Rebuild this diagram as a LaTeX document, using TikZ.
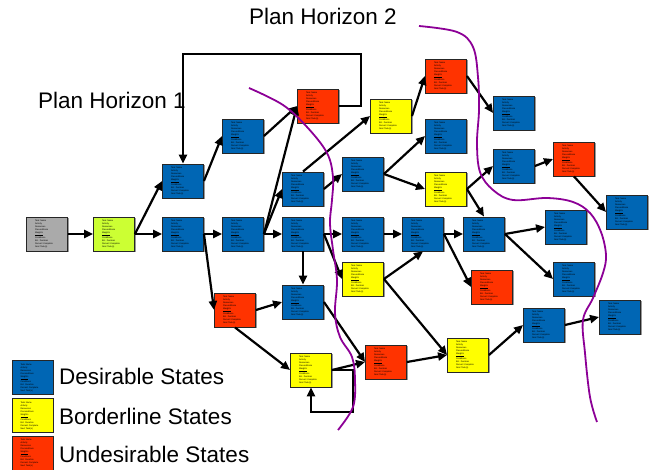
\documentclass[tikz,border=0pt]{standalone}
\usepackage{fontspec}
\setmainfont{Liberation Sans}
\usetikzlibrary{arrows.meta,shadows}
\definecolor{stblue}{RGB}{0,102,180}
\definecolor{styellow}{RGB}{255,255,0}
\definecolor{stred}{RGB}{255,51,0}
\definecolor{stgray}{RGB}{170,170,170}
\definecolor{stlime}{RGB}{204,255,51}
\definecolor{hpurple}{RGB}{140,0,150}
\newcommand{\taskinfo}{Task Name\\Activity\\Resources\\Preconditions\\\underline{Weights}\\Conditions\\Est. Duration\\Percent Complete\\Next Task(s)}
\tikzset{
  state/.style={draw=black!85, line width=0.9pt, minimum width=41pt, minimum height=34pt,
    inner sep=0pt, text width=24pt, align=left, font=\fontsize{2.2}{3}\selectfont,
    drop shadow={shadow xshift=1pt, shadow yshift=-1pt, fill=black!40, opacity=1}},
  dstate/.style={state, fill=stblue},
  bstate/.style={state, fill=styellow},
  ustate/.style={state, fill=stred},
  gstate/.style={state, fill=stgray},
  lstate/.style={state, fill=stlime},
  conn/.style={line width=2.2pt, -{Triangle[length=9pt,width=8pt]}},
  horizon/.style={draw=hpurple, line width=1.8pt},
  biglabel/.style={font=\fontsize{22.5}{27}\selectfont, inner sep=0pt, anchor=base west}
}
\begin{document}
\begin{tikzpicture}[x=1pt,y=-1pt]
\useasboundingbox (0,0) rectangle (649,470);

% titles
\node[biglabel] (ph2) at (249,25) {Plan Horizon 2};
\node[biglabel] (ph1) at (38,109) {Plan Horizon 1};

% states
\node[gstate] (g) at (47,234) {\taskinfo};
\node[lstate] (s) at (114,234) {\taskinfo};
\node[dstate] (a1) at (183,181) {\taskinfo};
\node[dstate] (a2) at (183,234) {\taskinfo};
\node[dstate] (b1) at (243,136) {\taskinfo};
\node[dstate] (b2) at (243,234) {\taskinfo};
\node[ustate] (r1) at (318,106) {\taskinfo};
\node[dstate] (c1) at (303,189) {\taskinfo};
\node[dstate] (c2) at (303,234) {\taskinfo};
\node[dstate] (c3) at (303,302) {\taskinfo};
\node[ustate] (r2) at (235,310) {\taskinfo};
\node[bstate] (y1) at (391,116) {\taskinfo};
\node[dstate] (d1) at (363,174) {\taskinfo};
\node[dstate] (d2) at (363,234) {\taskinfo};
\node[bstate] (y5) at (363,279) {\taskinfo};
\node[bstate] (y3) at (311,370) {\taskinfo};
\node[ustate] (r3) at (386,362) {\taskinfo};
\node[ustate] (r4) at (446,76) {\taskinfo};
\node[dstate] (e1) at (446,136) {\taskinfo};
\node[bstate] (y2) at (446,189) {\taskinfo};
\node[dstate] (e2) at (423,234) {\taskinfo};
\node[dstate] (f1) at (514,113) {\taskinfo};
\node[dstate] (f2) at (514,166) {\taskinfo};
\node[ustate] (r5) at (574,159) {\taskinfo};
\node[dstate] (h) at (627,212) {\taskinfo};
\node[dstate] (m) at (484,234) {\taskinfo};
\node[dstate] (i) at (566,227) {\taskinfo};
\node[dstate] (j) at (574,279) {\taskinfo};
\node[ustate] (r6) at (492,287) {\taskinfo};
\node[bstate] (y4) at (468,355) {\taskinfo};
\node[dstate] (k) at (544,325) {\taskinfo};
\node[dstate] (l) at (620,317) {\taskinfo};

% loop corners
\coordinate (loopR) at (361,54);
\coordinate (loopB) at (353,412);

% connectors
\draw[conn] (g) -- (s);
\draw[conn] (s.east) -- (a1.west);
\draw[conn] (s) -- (a2);
\draw[conn] (a1.east) -- (b1.west);
\draw[conn] (a2) -- (b2);
\draw[conn] (a2.east) -- (r2.west);
\draw[conn] (b1.east) -- (r1.west);
\draw[conn] (b2.east) -- (r1.west);
\draw[conn] (b2.east) -- (c1.west);
\draw[conn] (b2) -- (c2);
\draw[conn] (r1.east) -| (loopR) -| (a1.north);
\draw[conn] (c1.north) -- (y1.west);
\draw[conn] (c1.east) -- (d1.west);
\draw[conn] (c2) -- (d2);
\draw[conn] (c2) -- (c3);
\draw[conn] (c2.east) -- (y5.west);
\draw[conn] (d1.east) -- (e1.west);
\draw[conn] (d1.east) -- (y2.west);
\draw[conn] (y1.east) -- (r4.west);
\draw[conn] (r4.east) -- (f1.west);
\draw[conn] (y2.east) -- (f2.west);
\draw[conn] (y2.east) -- (m.north);
\draw[conn] (f2.east) -- (r5.west);
\draw[conn] (r5.south) -- (h.west);
\draw[conn] (d2) -- (e2);
\draw[conn] (e2) -- (m);
\draw[conn] (e2.east) -- (r6.west);
\draw[conn] (m.east) -- (i.west);
\draw[conn] (m.east) -- (j.west);
\draw[conn] (y5.east) -- (e2.south);
\draw[conn] (y5.east) -- (y4.west);
\draw[conn] (r2.east) -- (c3.west);
\draw[conn] (r2.south) -- (y3.west);
\draw[conn] (c3.east) -- (r3.west);
\draw[conn] (y3.east) -- (r3.west);
\draw[conn] (y3.east) -| (loopB) -| (y3.south);
\draw[conn] (r3.east) -- (y4.west);
\draw[conn] (y4.east) -- (k.west);
\draw[conn] (k.east) -- (l.west);

% plan horizon boundaries
\draw[horizon] plot[smooth, tension=0.6] coordinates {(249,88) (283,105) (307,127) (327,153) (333,177) (332,200) (330,223) (333,250) (337,280) (335,313) (340,337) (352,357) (355,380) (353,407) (338,430)};
\draw[horizon] plot[smooth, tension=0.6] coordinates {(419,26) (457,32) (473,47) (478,77) (479,110) (477,143) (480,172) (493,190) (513,200) (547,198) (573,202) (590,213) (601,232) (606,255) (603,273) (593,298) (583,320) (585,353) (590,397) (597,422)};

% legend
\node[dstate] (ld) at (32.5,377.5) {\taskinfo};
\node[bstate] (lb) at (32.5,415.5) {\taskinfo};
\node[ustate] (lu) at (32.5,453) {\taskinfo};
\node[biglabel] (tld) at (59,385) {Desirable States};
\node[biglabel] (tlb) at (59,425) {Borderline States};
\node[biglabel] (tlu) at (59,463) {Undesirable States};
\end{tikzpicture}
\end{document}
